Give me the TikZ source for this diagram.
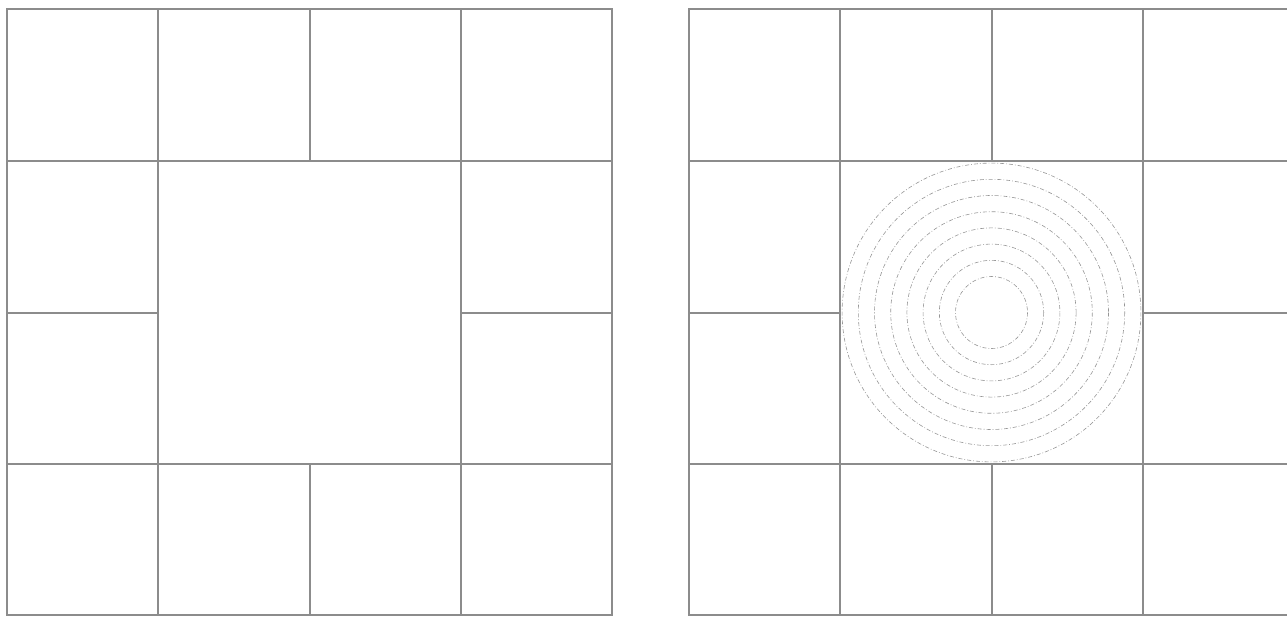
\documentclass[tikz,border=0pt]{standalone}
\begin{document}
\begin{tikzpicture}[x=1pt,y=-1pt,
  gridline/.style={draw={rgb,255:red,140;green,140;blue,140},line width=2pt},
  ring/.style={draw={rgb,255:red,150;green,150;blue,150},line width=0.6pt,dash pattern=on 4pt off 2pt on 0.8pt off 2pt}]
\useasboundingbox (0,0) rectangle (1287,618);
% left grid
\begin{scope}[shift={(7,9.5)}]
  \draw[gridline] (0,0) rectangle (605,605.5);
  \draw[gridline] (0,151.5) -- (605,151.5);
  \draw[gridline] (0,454.5) -- (605,454.5);
  \draw[gridline] (151,0) -- (151,605.5);
  \draw[gridline] (454,0) -- (454,605.5);
  \draw[gridline] (302.5,0) -- (302.5,151.5);
  \draw[gridline] (302.5,454.5) -- (302.5,605.5);
  \draw[gridline] (0,303) -- (151,303);
  \draw[gridline] (454,303) -- (605,303);
\end{scope}
% right grid
\begin{scope}[shift={(689,9.5)}]
  \draw[gridline] (0,0) rectangle (605,605.5);
  \draw[gridline] (0,151.5) -- (605,151.5);
  \draw[gridline] (0,454.5) -- (605,454.5);
  \draw[gridline] (151,0) -- (151,605.5);
  \draw[gridline] (454,0) -- (454,605.5);
  \draw[gridline] (302.5,0) -- (302.5,151.5);
  \draw[gridline] (302.5,454.5) -- (302.5,605.5);
  \draw[gridline] (0,303) -- (151,303);
  \draw[gridline] (454,303) -- (605,303);
  \coordinate (c) at (302.5,303);
  \foreach \r in {36,52.2,68.4,84.6,100.8,117,133.2,149.4}
    \draw[ring] (c) circle[radius=\r];
\end{scope}
\end{tikzpicture}
\end{document}
